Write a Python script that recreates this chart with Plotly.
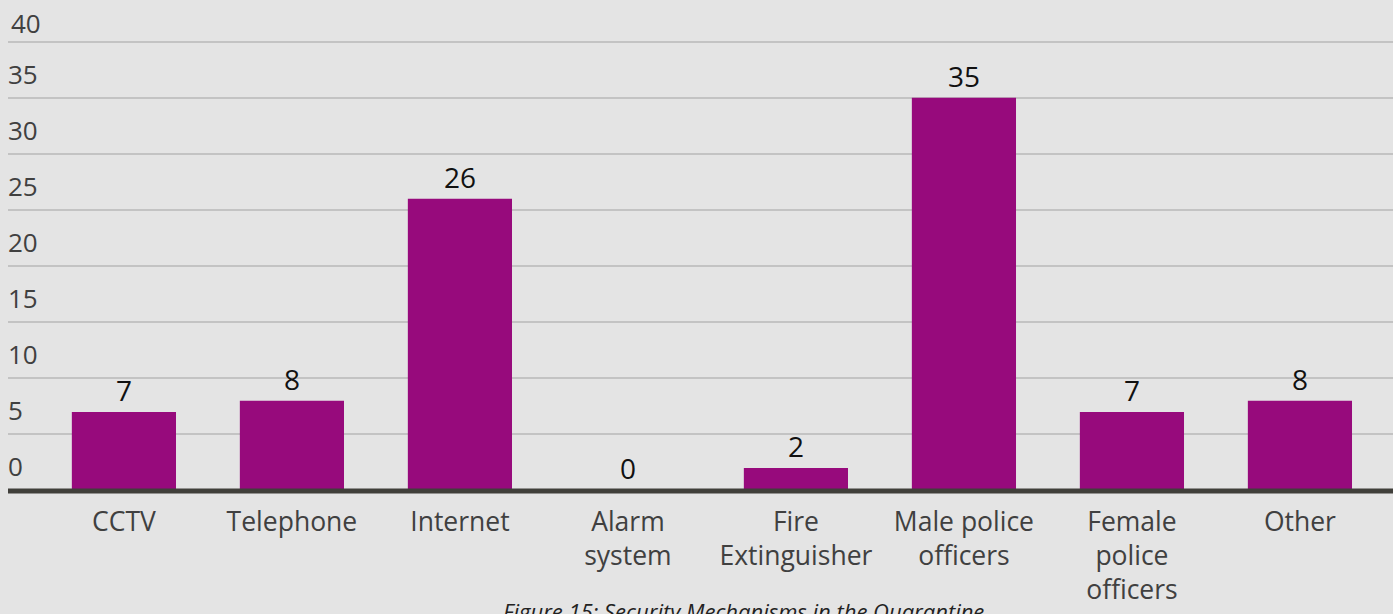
import plotly.graph_objects as go

categories = ["CCTV", "Telephone", "Internet", "Alarm<br>system", "Fire<br>Extinguisher",
              "Male police<br>officers", "Female<br>police<br>officers", "Other"]
values = [7, 8, 26, 0, 2, 35, 7, 8]
y_ticks = [0, 5, 10, 15, 20, 25, 30, 35]
y_top_tick = [40]
caption = "Figure 15: Security Mechanisms in the Quarantine"

BG = "#e4e4e4"
BAR = "#970a7c"
FONT = "Open Sans"
Y_RANGE = [-0.05, 43.71]

fig = go.Figure()
fig.add_trace(go.Bar(
    x=list(range(len(categories))), y=values,
    marker=dict(color=BAR, line=dict(width=0)),
    width=0.62,
    text=[str(v) for v in values], textposition="outside",
    textfont=dict(family=FONT, size=28, color="#111111"),
    cliponaxis=False,
))
# empty helper trace so the overlaid axis carrying the top tick is drawn
fig.add_trace(go.Scatter(x=[], y=[], yaxis="y2", showlegend=False, hoverinfo="skip"))

# dark baseline along the value-axis zero (plot bottom)
fig.add_shape(type="line", xref="paper", yref="paper", x0=0, x1=1, y0=0, y1=0,
              line=dict(color="#403f3a", width=5), layer="above")

fig.add_annotation(text=caption, xref="paper", yref="paper", x=0.531, y=0,
                   yshift=-103, yanchor="top", showarrow=False,
                   font=dict(family=FONT, size=22, color="#222222", style="italic"))

fig.update_layout(
    width=1393, height=614,
    paper_bgcolor=BG, plot_bgcolor=BG,
    margin=dict(l=8, r=0, t=0, b=123),
    showlegend=False,
    font=dict(family=FONT, size=26, color="#404040"),
    yaxis2=dict(
        overlaying="y", anchor="x", side="left", range=Y_RANGE,
        tickmode="array", tickvals=y_top_tick, showgrid=True,
        gridcolor="#c3c3c3", gridwidth=2, zeroline=False, showline=False, ticks="",
        ticklabelposition="inside top",
        tickfont=dict(family=FONT, size=26, color="#404040"),
    ),
)
fig.update_xaxes(
    tickmode="array", tickvals=list(range(len(categories))), ticktext=categories,
    range=[-0.69, 7.554], showgrid=False, zeroline=False, showline=False,
    ticks="", tickfont=dict(family=FONT, size=26.5, color="#404040"),
    ticklabelstandoff=12,
)
fig.layout.yaxis.update(
    range=Y_RANGE, tickmode="array", tickvals=y_ticks, showgrid=True,
    gridcolor="#c3c3c3", gridwidth=2,
    zeroline=False, showline=False, ticks="",
    ticklabelposition="inside top",
    ticklabelshift=-5, ticklabelstandoff=-3,
    tickfont=dict(family=FONT, size=26, color="#404040"),
)

fig.write_html("out.html")
